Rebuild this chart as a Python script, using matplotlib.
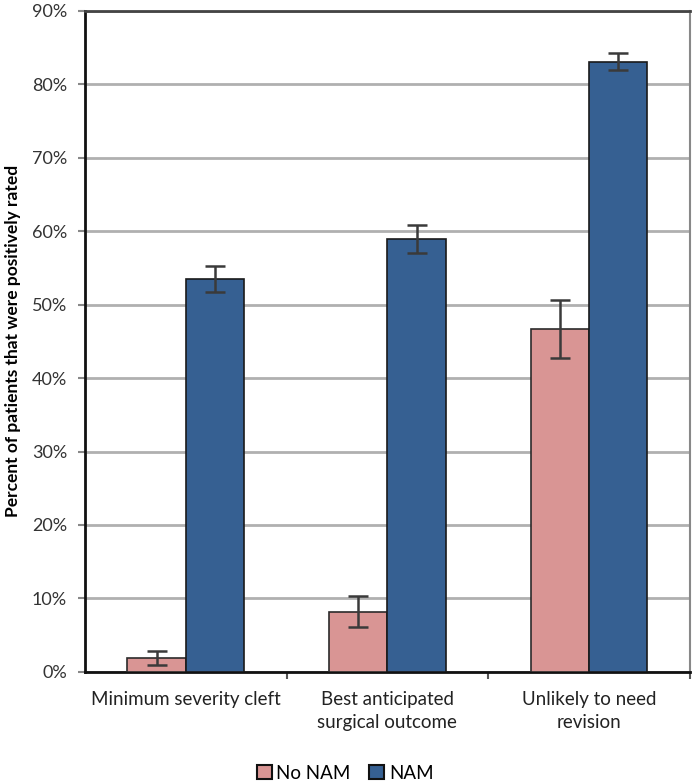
import matplotlib.pyplot as plt
import numpy as np
from matplotlib.ticker import FuncFormatter

categories = ["Minimum severity cleft", "Best anticipated\nsurgical outcome", "Unlikely to need\nrevision"]
no_nam = [1.9, 8.2, 46.7]
no_nam_err = [1.0, 2.1, 3.9]
nam = [53.5, 59.0, 83.1]
nam_err = [1.8, 1.9, 1.2]

plt.rcParams['font.family'] = ['Lato', 'DejaVu Sans']

fig = plt.figure(figsize=(6.94, 7.83), dpi=100)
ax = fig.add_axes([0.1225, 0.142, 0.8715, 0.844])

x = np.arange(len(categories))
w = 0.29
err_kw = dict(ecolor="#3a3a3a", elinewidth=1.8, capsize=7, capthick=1.8)
ax.bar(x - w / 2, no_nam, w, yerr=no_nam_err, color="#D99594", edgecolor="#2b2b2b",
       linewidth=1.2, label="No NAM", error_kw=err_kw, zorder=3)
ax.bar(x + w / 2, nam, w, yerr=nam_err, color="#366092", edgecolor="#1a1a1a",
       linewidth=1.2, label="NAM", error_kw=err_kw, zorder=3)

ax.set_xlim(-0.5, 2.5)
ax.set_ylim(0, 90)
ax.set_yticks(range(0, 91, 10))
ax.yaxis.set_major_formatter(FuncFormatter(lambda v, p: f"{v:.0f}%"))
ax.yaxis.grid(True, color="#b0b0b0", linewidth=2, zorder=0)

ax.set_xticks(x)
ax.set_xticklabels(categories, fontsize=13.5, color="#222222", linespacing=1.4)
ax.set_xticks([0.5, 1.5, 2.5], minor=True)
ax.tick_params(axis="x", which="major", length=0, pad=14)
ax.tick_params(axis="x", which="minor", length=5, width=1.5, color="#555555")
ax.tick_params(axis="y", length=5, width=1.5, color="#888888", labelsize=13,
               labelcolor="#333333", pad=8)

ax.spines["left"].set_linewidth(2)
ax.spines["left"].set_color("#111111")
ax.spines["bottom"].set_linewidth(2)
ax.spines["bottom"].set_color("#111111")
ax.spines["top"].set_color("#444444")
ax.spines["top"].set_linewidth(2)
ax.spines["right"].set_color("#888888")
ax.spines["right"].set_linewidth(1.5)

ax.set_ylabel("Percent of patients that were positively rated", fontsize=12.5,
              fontweight="bold", labelpad=8)

leg = ax.legend(loc="upper center", bbox_to_anchor=(0.43, -0.115), ncol=2, frameon=False,
                fontsize=13.5, handlelength=0.8, handleheight=0.8, handletextpad=0.25,
                columnspacing=1.0)
for h in leg.legend_handles:
    h.set_edgecolor("#111111")
    h.set_linewidth(1.5)

fig.savefig("out.png", dpi=100)
